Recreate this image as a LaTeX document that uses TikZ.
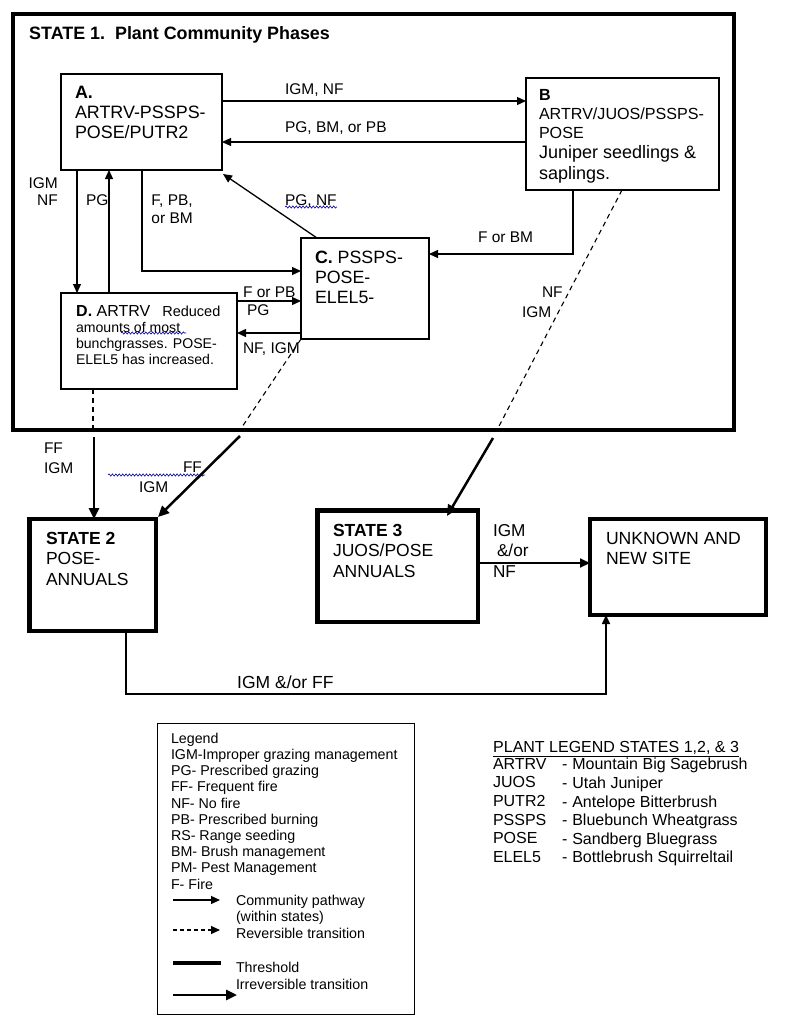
\documentclass[tikz,border=0pt]{standalone}
\usepackage{fontspec}
\setmainfont{Liberation Sans}
\usetikzlibrary{arrows.meta,decorations.pathmorphing}
\newcommand\fsz[2]{\fontsize{#1}{#2}\selectfont}
\begin{document}
\begin{tikzpicture}[x=1pt,y=-1pt,
  pbox/.style={draw,line width=1.2pt,inner sep=0pt,outer sep=0pt},
  sbox/.style={draw,line width=4.4pt,inner sep=0pt,outer sep=0pt},
  txt/.style={inner sep=0pt,outer sep=0pt,anchor=north west,align=left},
  lbl/.style={inner sep=0pt,outer sep=0pt,anchor=base west,font=\fsz{15.5}{18}},
  arr/.style={line width=1.3pt,-{Triangle[length=9pt,width=8pt]}},
  thk/.style={line width=2.5pt,-{Triangle[length=11pt,width=10pt]}},
  dsh/.style={line width=1.1pt,dash pattern=on 5pt off 4pt},
  wavy/.style={draw=blue!60!black,line width=0.6pt,decorate,decoration={snake,amplitude=1.1pt,segment length=3.4pt}}]

\fill[white] (0,0) rectangle (800,1020);

% ---------- State 1 frame ----------
\node[sbox,minimum width=721pt,minimum height=416pt] (S1) at (373.5,222) {};
\node[anchor=base west,inner sep=0pt,font=\fsz{17.9}{20}\bfseries] (S1t) at (29,39.8) {STATE 1.\ \ Plant Community Phases};

% ---------- phase boxes ----------
\node[pbox,minimum width=161pt,minimum height=96pt] (A) at (141.5,122) {};
\node[txt,font=\fsz{17.9}{20}] (At) at (75,86.6) {\textbf{A.}\\ARTRV-PSSPS-\\POSE/PUTR2};

\node[pbox,minimum width=193pt,minimum height=112pt] (B) at (622.5,134) {};
\node[txt,font=\fsz{16.1}{19}] (Bt) at (539,89) {\textbf{B}\\ARTRV/JUOS/PSSPS-\\POSE};
\node[txt,font=\fsz{18}{21}] (Bt2) at (539,145.5) {Juniper seedlings \&\\saplings.};

\node[pbox,minimum width=128pt,minimum height=101pt] (C) at (365,288.5) {};
\node[txt,font=\fsz{17.8}{20}] (Ct) at (315,250.7) {\textbf{C.} PSSPS-\\POSE-\\ELEL5-};

\node[pbox,minimum width=176pt,minimum height=96pt] (D) at (149,341) {};
\node[anchor=base west,inner sep=0pt,font=\fsz{16}{19}] (Dt) at (76,316.5) {\textbf{D.} ARTRV\hspace{12pt}{\fsz{14.5}{17}Reduced}};
\node[txt,font=\fsz{14.1}{16}] (Dt2) at (76,322) {amounts of most\\bunchgrasses. POSE-\\ELEL5 has increased.};

% ---------- pathways within state 1 ----------
\draw[arr] (A.east |- 0,101) -- (B.west |- 0,101);
\draw[arr] (B.west |- 0,142) -- (A.east |- 0,142);
\draw[arr] (A.south -| 77,0) -- (D.north -| 77,0);
\draw[arr] (D.north -| 109,0) -- (A.south -| 109,0);
\draw[arr] (A.south -| 142,0) |- (C.west |- 0,271);
\draw[arr] (C.north -| 317,0) -- ([xshift=1pt,yshift=-4pt]A.south east);
\draw[arr] (B.south -| 573,0) |- (C.east |- 0,254);
\draw[arr] (D.east |- 0,301) -- (C.west |- 0,301);
\draw[arr] (C.west |- 0,333) -- (D.east |- 0,333);

\node[lbl] (l1) at (285,94.5) {IGM, NF};
\node[lbl] (l2) at (285,132.5) {PG, BM, or PB};
\node[inner sep=0pt,anchor=north east,align=right,font=\fsz{15.5}{17}] (l3) at (58,177.5) {IGM\\NF};
\node[lbl] (l4) at (86,205.5) {PG};
\node[inner sep=0pt,anchor=north east,align=right,font=\fsz{15.5}{18}] (l5) at (193,194.5) {F, PB,\\or BM};
\node[lbl] (l6) at (285,205.5) {PG, NF};
\node[lbl] (l7) at (478,242.5) {F or BM};
\node[lbl] (l8) at (243,297.5) {F or PB};
\node[lbl] (l9) at (247,315.5) {PG};
\node[lbl] (l10) at (243,353.5) {NF, IGM};
\node[lbl] (l11) at (542,297.5) {NF};
\node[lbl] (l12) at (522,317.5) {IGM};

% spell-check squiggles
\draw[wavy] (121,333) -- (186,333);
\draw[wavy] (285,207) -- (337,207);
\draw[wavy] (108,475) -- (205,475);

% ---------- transitions ----------
\draw[dsh] (D.south -| 93,0) -- (S1.south -| 93,0);
\draw[dsh] (C.south west) -- (S1.south -| 240,0);
\draw[dsh] (B.south -| 622,0) -- (S1.south -| 497,0);

\node[sbox,minimum width=126.5pt,minimum height=112pt] (S2) at (92.75,575) {};
\node[txt,font=\fsz{17.5}{20.5}] (S2t) at (46,531.8) {\textbf{STATE 2}\\POSE-\\ANNUALS};

\node[sbox,minimum width=160.5pt,minimum height=111.5pt] (S3) at (397.75,566.25) {};
\node[txt,font=\fsz{17.5}{20.5}] (S3t) at (333,523.8) {\textbf{STATE 3}\\JUOS/POSE\\ANNUALS};

\node[sbox,minimum width=176pt,minimum height=96pt] (U) at (678,567) {};
\node[txt,font=\fsz{17.6}{20}] (Ut) at (606,531.8) {UNKNOWN AND\\NEW SITE};

\coordinate (t1) at (94,437);
\coordinate (t2) at (240,436);
\coordinate (t3) at (493,438);
\draw[thk] (t1) -- (S2.north -| 94,0);
\draw[thk] (t2) -- ([xshift=2pt,yshift=2pt]S2.north east);
\draw[thk] (t3) -- ([yshift=-5.5pt]S3.north -| 447,0);
\draw[line width=2pt,-{Triangle[length=10pt,width=9pt]}] (S3.east |- 0,563) -- (U.west |- 0,563);
\coordinate (low) at (360,694);
\draw[line width=1.6pt,-{Triangle[length=9pt,width=8pt]}] (S2.south -| 126,0) |- (low) -| (U.south -| 606,0);

\node[txt,font=\fsz{15.5}{20}] (l13) at (44,442.5) {FF\\IGM};
\node[lbl] (l14) at (183,472.5) {FF};
\node[lbl] (l15) at (139,492.5) {IGM};
\node[txt,font=\fsz{17.2}{20.8}] (l16) at (493,524) {IGM\\\hspace{4pt}\&/or\\NF};
\node[anchor=base west,inner sep=0pt,font=\fsz{17.5}{20}] (l17) at (237,688) {IGM \&/or FF};

% ---------- legend ----------
\node[draw,line width=1pt,minimum width=257pt,minimum height=291pt,inner sep=0pt] (L) at (285.5,868.5) {};
\node[txt,font=\fsz{14.25}{16.2}] (Lt) at (171,733) {Legend\\IGM-Improper grazing management\\PG- Prescribed grazing\\FF- Frequent fire\\NF- No fire\\PB- Prescribed burning\\RS- Range seeding\\BM- Brush management\\PM- Pest Management\\F- Fire};
\draw[arr] (173,900) -- (220,900);
\draw[line width=1.1pt,dash pattern=on 4pt off 3pt,-{Triangle[length=9pt,width=8pt]}] (173,930) -- (220,930);
\draw[line width=4pt] (173,963) -- (221,963);
\draw[thk] (173,995) -- (237,995);
\node[txt,font=\fsz{14.25}{16.5}] (Lt2) at (236,895) {Community pathway\\(within states)\\Reversible transition};
\node[txt,font=\fsz{14.25}{17}] (Lt3) at (236,962) {Threshold\\Irreversible transition};

% ---------- plant legend ----------
\node[anchor=base west,inner sep=0pt,font=\fsz{16}{18.5}] (P0) at (493,752.7) {\underline{PLANT LEGEND STATES 1,2, \& 3}};
\node[txt,font=\fsz{16}{18.6}] (P1) at (493,758.3) {ARTRV\\JUOS\\PUTR2\\PSSPS\\POSE\\ELEL5};
\node[txt,font=\fsz{16}{18.6}] (P2) at (562,758.3) {-\hspace{5pt}Mountain Big Sagebrush\\-\hspace{5pt}Utah Juniper\\-\hspace{5pt}Antelope Bitterbrush\\-\hspace{5pt}Bluebunch Wheatgrass\\-\hspace{5pt}Sandberg Bluegrass\\-\hspace{5pt}Bottlebrush Squirreltail};
\end{tikzpicture}
\end{document}
